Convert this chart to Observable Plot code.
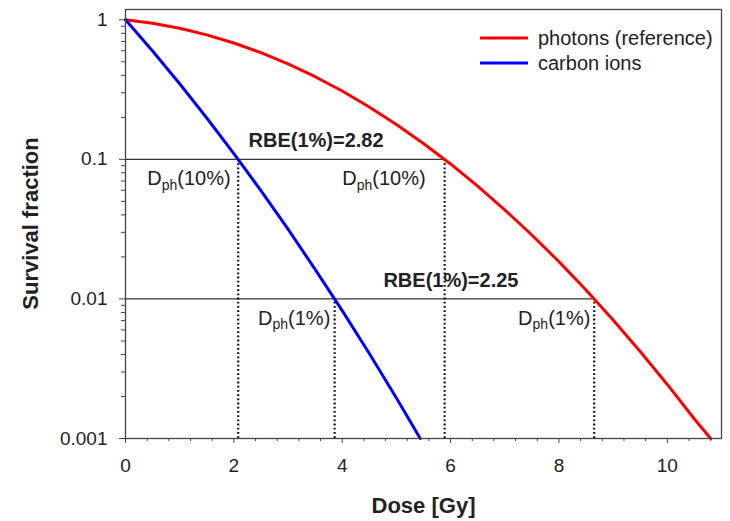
<!DOCTYPE html>
<html><head><meta charset="utf-8">
<script src="https://cdn.jsdelivr.net/npm/d3@7"></script>
<script src="https://cdn.jsdelivr.net/npm/@observablehq/plot@0.6"></script>
<style>
body{margin:0;background:#fff;font-family:"Liberation Sans",Arial,sans-serif}
#chart{width:730px;height:521px}
</style>
</head><body><div id="chart"></div>
<script>
// Survival curves
const photonDose = [0, 0.5, 1, 1.5, 2, 2.5, 3, 3.5, 4, 4.5, 5, 5.5, 6, 6.5, 7, 7.5, 8, 8.5, 9, 9.5, 10, 10.5, 10.8];
const photonSurv = [1, 0.944, 0.869, 0.78, 0.682, 0.581, 0.483, 0.391, 0.309, 0.237, 0.178, 0.13, 0.0927, 0.0643, 0.0435, 0.0287, 0.0185, 0.0116, 0.00706, 0.0042, 0.00244, 0.00138, 0.001];
const carbonDose = [0, 0.5, 1, 1.5, 2, 2.5, 3, 3.5, 4, 4.5, 5, 5.44];
const carbonSurv = [1, 0.597, 0.348, 0.198, 0.11, 0.0597, 0.0316, 0.0163, 0.00824, 0.00406, 0.00195, 0.001];
const seriesNames = ["photons (reference)", "carbon ions"];
const seriesColors = ["#ff0000", "#0000ff"];

// Iso-effect annotations
const levels = [0.1, 0.01];
const photonIsoDose = [5.89, 8.65];
const carbonIsoDose = [2.08, 3.86];
const rbeLabels = ["RBE(1%)=2.82", "RBE(1%)=2.25"];
const rbeLabelX = [2.27, 4.76];
const dphLabels = ["Dph(10%)", "Dph(10%)", "Dph(1%)", "Dph(1%)"];
const dphLabelX = [1.94, 5.54, 3.78, 8.58];
const dphLabelLevel = [0.1, 0.1, 0.01, 0.01];

// Axes
const xTicks = [0, 2, 4, 6, 8, 10];
const xMinorTicks = [0.4, 0.8, 1.2, 1.6, 2.4, 2.8, 3.2, 3.6, 4.4, 4.8, 5.2, 5.6, 6.4, 6.8, 7.2, 7.6, 8.4, 8.8, 9.2, 9.6, 10.4, 10.8];
const yTicks = [1, 0.1, 0.01, 0.001];
const yMinorTicks = [0.002,0.003,0.004,0.005,0.006,0.007,0.008,0.009,0.02,0.03,0.04,0.05,0.06,0.07,0.08,0.09,0.2,0.3,0.4,0.5,0.6,0.7,0.8,0.9];
const xLabel = "Dose [Gy]";
const yLabel = "Survival fraction";

const photons = photonDose.map((d, i) => ({dose: d, s: photonSurv[i]}));
const carbons = carbonDose.map((d, i) => ({dose: d, s: carbonSurv[i]}));
const hLines = levels.map((l, i) => ({y: l, x1: 0, x2: photonIsoDose[i]}));
const vLines = levels.flatMap((l, i) => [{x: carbonIsoDose[i], y2: l}, {x: photonIsoDose[i], y2: l}]).map(d => ({...d, y1: 0.001}));
const rbeData = levels.map((l, i) => ({x: rbeLabelX[i], y: l, t: rbeLabels[i]}));
const dphData = dphLabels.map((t, i) => ({x: dphLabelX[i], y: dphLabelLevel[i], t}));

const ink = "#222";
const W = 730, H = 521, mL = 125, mR = 9, mT = 9, mB = 83;
const plot = Plot.plot({
  width: W, height: H,
  marginLeft: mL, marginRight: mR, marginTop: mT, marginBottom: mB,
  style: {fontFamily: '"Liberation Sans", Arial, sans-serif', fontSize: "19px", color: ink, background: "#fff"},
  x: {domain: [0, 11], label: null},
  y: {type: "log", domain: [0.001, 1.185], label: null},
  marks: [
    Plot.ruleY(hLines, {y: "y", x1: "x1", x2: "x2", stroke: "#333", strokeWidth: 1.2}),
    Plot.ruleX(vLines, {x: "x", y1: "y1", y2: "y2", stroke: "#111", strokeWidth: 2.2, strokeDasharray: "1.8,2.4"}),
    Plot.line(photons, {x: "dose", y: "s", stroke: seriesColors[0], strokeWidth: 3}),
    Plot.line(carbons, {x: "dose", y: "s", stroke: seriesColors[1], strokeWidth: 3}),
    Plot.frame({stroke: "#444", strokeWidth: 1.3}),
    Plot.axisX(xTicks, {tickSize: 5, tickPadding: 15, fontSize: 19, label: null, stroke: "#444"}),
    Plot.axisX(xMinorTicks, {tickSize: 3, tickFormat: () => "", label: null, stroke: "#444"}),
    Plot.axisY(yTicks, {tickSize: 6, tickPadding: 12, fontSize: 19, tickFormat: d => String(d), label: null, stroke: "#444"}),
    Plot.axisY(yMinorTicks, {tickSize: 4, tickFormat: () => "", label: null, stroke: "#444"}),
    Plot.text(rbeData, {x: "x", y: "y", text: "t", textAnchor: "start", lineAnchor: "bottom", dy: -12, fontSize: 20, fontWeight: "bold", fill: ink}),
    Plot.text(dphData, {x: "x", y: "y", text: "t", textAnchor: "end", lineAnchor: "bottom", dy: 26, fontSize: 20, fill: ink}),
    Plot.text([xLabel], {frameAnchor: "bottom", lineAnchor: "middle", dy: 67, fontSize: 22, fontWeight: "bold", fill: ink})
  ]
});

// subscripts for D_ph
d3.select(plot).selectAll("text").each(function() {
  const m = /^Dph(\(.*\))$/.exec(this.textContent);
  if (m) {
    const sel = d3.select(this);
    sel.text("D");
    sel.append("tspan").attr("font-size", 14).attr("dy", 4.5).text("ph");
    sel.append("tspan").attr("dy", -4.5).text(m[1]);
  }
});

// y-axis title
d3.select(plot).append("text")
  .attr("transform", `translate(30,${(mT + H - mB) / 2}) rotate(-90)`)
  .attr("text-anchor", "middle").attr("dy", "0.35em")
  .attr("font-size", 22).attr("font-weight", "bold").attr("fill", ink)
  .text(yLabel);

// legend inside plot
const leg = d3.select(plot).append("g").attr("font-size", 20).attr("fill", ink).attr("text-anchor", "start");
const legY = [38, 63];
seriesNames.forEach((name, i) => {
  leg.append("line").attr("x1", 480).attr("x2", 528).attr("y1", legY[i]).attr("y2", legY[i])
    .attr("stroke", seriesColors[i]).attr("stroke-width", 3);
  leg.append("text").attr("x", 538).attr("y", legY[i]).attr("dy", "0.35em").text(name);
});

document.getElementById("chart").append(plot);
</script>
</body></html>
